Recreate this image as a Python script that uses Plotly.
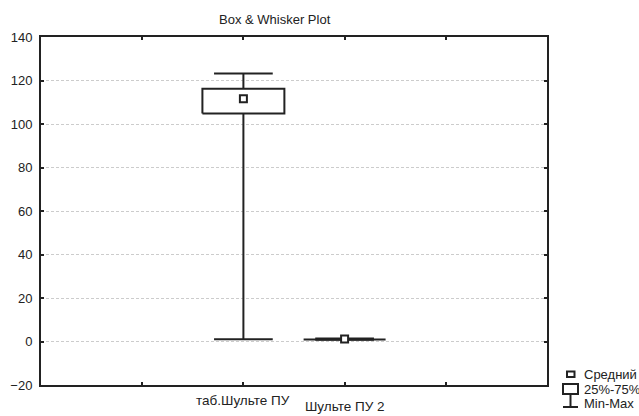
import plotly.graph_objects as go

# ---- data ----
categories = ["таб.Шульте ПУ", "Шульте ПУ 2"]
cat_pos = [2, 3]
v_min = [1.0, 0.8]
v_q1 = [104.8, 0.9]
v_mean = [111.6, 1.1]
v_q3 = [116.2, 1.2]
v_max = [123.2, 1.4]
y_ticks = [-20, 0, 20, 40, 60, 80, 100, 120, 140]
legend_labels = ["Средний", "25%-75%", "Min-Max"]

# ---- style ----
W, H = 639, 416
L, R, T, B = 41, 92, 37, 31
BOX_HW = 0.405
CAP_HW = 0.29
LC = "#222222"
FONT = "Liberation Sans, Arial, sans-serif"

fig = go.Figure()

bx, by, wx, wy = [], [], [], []
for p, lo, a, b, hi in zip(cat_pos, v_min, v_q1, v_q3, v_max):
    bx += [p - BOX_HW, p + BOX_HW, p + BOX_HW, p - BOX_HW, p - BOX_HW, None]
    by += [a, a, b, b, a, None]
    wx += [p, p, None, p, p, None, p - CAP_HW, p + CAP_HW, None, p - CAP_HW, p + CAP_HW, None]
    wy += [b, hi, None, a, lo, None, hi, hi, None, lo, lo, None]

fig.add_trace(go.Scatter(x=wx, y=wy, mode="lines", line=dict(color=LC, width=2),
                         hoverinfo="skip", showlegend=False))
fig.add_trace(go.Scatter(x=bx, y=by, mode="lines", line=dict(color=LC, width=2),
                         fill="toself", fillcolor="white", hoverinfo="skip", showlegend=False))
fig.add_trace(go.Scatter(x=cat_pos, y=v_mean, mode="markers",
                         marker=dict(symbol="square", size=7, color="white",
                                     line=dict(color=LC, width=2)),
                         showlegend=False))

fig.update_layout(
    width=W, height=H,
    margin=dict(l=L, r=R, t=T, b=B, pad=0),
    paper_bgcolor="white", plot_bgcolor="white",
    font=dict(family=FONT, size=13, color=LC),
    xaxis=dict(range=[0, 5], tickvals=[1, 2, 3, 4],
               ticktext=["", "", "", ""],
               ticks="inside", ticklen=3, tickwidth=2, tickcolor=LC,
               showgrid=False, zeroline=False, automargin=False,
               showline=True, linecolor=LC, linewidth=2, mirror="ticks"),
    yaxis=dict(range=[-20, 140], tickvals=y_ticks,
               ticks="inside", ticklen=3, tickwidth=2, tickcolor=LC,
               showgrid=True, gridcolor="#cccccc", griddash="3px,2px", gridwidth=1,
               zeroline=False, automargin=False, ticklabelstandoff=4,
               showline=True, linecolor=LC, linewidth=2, mirror="ticks",
               tickfont=dict(size=13, family=FONT, color=LC)),
)

pw, ph = W - L - R, H - T - B
def px(x):
    return (x - L) / pw
def py(y):
    return (H - B - y) / ph

# staggered category labels (placed on the x data scale)
fig.add_annotation(text=categories[0], xref="x", yref="paper", x=cat_pos[0], y=py(400),
                   showarrow=False, xanchor="center", yanchor="middle",
                   font=dict(size=13.5, family=FONT, color=LC))
fig.add_annotation(text=categories[1], xref="x", yref="paper", x=cat_pos[1], y=py(415.5),
                   showarrow=False, xanchor="center", yanchor="bottom",
                   font=dict(size=13.5, family=FONT, color=LC))

# title
fig.add_annotation(text="Box & Whisker Plot", xref="paper", yref="paper",
                   x=px(275), y=py(20), showarrow=False,
                   font=dict(size=13, family=FONT, color=LC),
                   xanchor="center", yanchor="middle")

# custom legend
shapes = []
shapes.append(dict(type="rect", xref="paper", yref="paper",
                   x0=px(567), x1=px(574.5), y0=py(377), y1=py(371.5),
                   line=dict(color=LC, width=2), fillcolor="white"))
shapes.append(dict(type="rect", xref="paper", yref="paper",
                   x0=px(563), x1=px(578), y0=py(394), y1=py(384),
                   line=dict(color=LC, width=2), fillcolor="white"))
shapes.append(dict(type="line", xref="paper", yref="paper",
                   x0=px(570.5), x1=px(570.5), y0=py(394), y1=py(407),
                   line=dict(color=LC, width=2)))
shapes.append(dict(type="line", xref="paper", yref="paper",
                   x0=px(563), x1=px(578), y0=py(407), y1=py(407),
                   line=dict(color=LC, width=2)))
fig.update_layout(shapes=shapes)

for lab, yy in zip(legend_labels, [374, 389, 403]):
    fig.add_annotation(text=lab, xref="paper", yref="paper", x=px(582), y=py(yy),
                       showarrow=False, xanchor="left", yanchor="middle",
                       font=dict(size=13, family=FONT, color=LC))

fig.write_html("out.html")
